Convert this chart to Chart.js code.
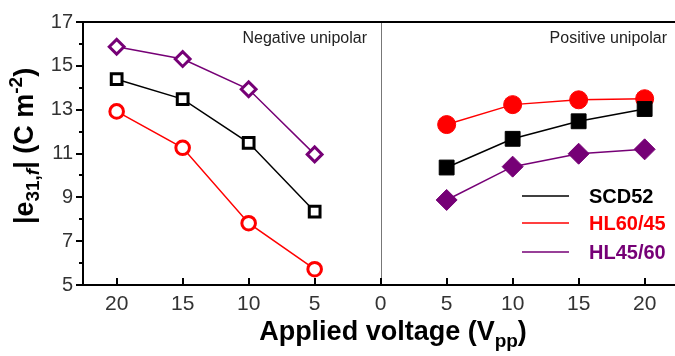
<!DOCTYPE html>
<html>
<head>
<meta charset="utf-8">
<script src="https://cdn.jsdelivr.net/npm/chart.js@4.4.0/dist/chart.umd.min.js"></script>
<style>
  html, body { margin: 0; padding: 0; background: #fff; }
  #wrap { width: 675px; height: 356px; }
</style>
</head>
<body>
<div id="wrap"><canvas id="chart"></canvas></div>
<script>
// Applied voltage (Vpp); negative unipolar is plotted left of 0
const negVoltages = [-20, -15, -10, -5];
const posVoltages = [5, 10, 15, 20];
const xTicks = [-20, -15, -10, -5, 0, 5, 10, 15, 20];
const yTicks = [5, 7, 9, 11, 13, 15, 17];

const materials = ['SCD52', 'HL60/45', 'HL45/60'];
const colors = ['#000000', '#ff0000', '#760076'];

// |e31,f| in C m-2
const scd52Neg = [14.39, 13.48, 11.49, 8.35];
const scd52Pos = [10.36, 11.67, 12.47, 13.03];
const hl6045Neg = [12.92, 11.26, 7.82, 5.72];
const hl6045Pos = [12.32, 13.23, 13.45, 13.50];
const hl4560Neg = [15.87, 15.31, 13.93, 10.96];
const hl4560Pos = [8.88, 10.40, 10.99, 11.19];

const FONT = '"Liberation Sans", Arial, sans-serif';

function pts(xs, ys) {
    return xs.map((x, i) => ({ x: x, y: ys[i] }));
}

// open markers on the negative side, filled on the positive side
const negSets = [scd52Neg, hl6045Neg, hl4560Neg];
const posSets = [scd52Pos, hl6045Pos, hl4560Pos];
const styles = ['rect', 'circle', 'rectRot'];
const openRadius = [7.6, 6.8, 7.4];
const fillRadius = [10.5, 9, 10.5];

const datasets = [];
materials.forEach((name, i) => {
    datasets.push({
        label: name + ' negative',
        data: pts(negVoltages, negSets[i]),
        borderColor: colors[i],
        backgroundColor: colors[i],
        borderWidth: 1.5,
        pointStyle: styles[i],
        pointRadius: openRadius[i],
        pointBorderWidth: 3,
        pointBackgroundColor: '#ffffff',
        pointBorderColor: colors[i],
        showLine: true,
    });
    datasets.push({
        label: name,
        data: pts(posVoltages, posSets[i]),
        borderColor: colors[i],
        backgroundColor: colors[i],
        borderWidth: 1.5,
        pointStyle: styles[i],
        pointRadius: fillRadius[i],
        pointBorderWidth: 1,
        pointBackgroundColor: colors[i],
        pointBorderColor: colors[i],
        showLine: true,
    });
});

// draws text made of pieces (normal / sub / super), centred on x
function richText(ctx, parts, x, y) {
    let total = 0;
    parts.forEach((p) => {
        ctx.font = p.font;
        p.w = ctx.measureText(p.t).width;
        total += p.w;
    });
    let cx = x - total / 2;
    ctx.textAlign = 'left';
    ctx.textBaseline = 'alphabetic';
    parts.forEach((p) => {
        ctx.font = p.font;
        ctx.fillText(p.t, cx, y + (p.dy || 0));
        cx += p.w;
    });
}

const decorPlugin = {
    id: 'decor',
    beforeDatasetsDraw(chart) {
        const ctx = chart.ctx;
        const a = chart.chartArea;
        const x0 = chart.scales.x.getPixelForValue(0);
        ctx.save();
        ctx.strokeStyle = '#777';
        ctx.lineWidth = 1;
        ctx.beginPath();
        ctx.moveTo(Math.round(x0) + 0.5, a.top);
        ctx.lineTo(Math.round(x0) + 0.5, a.bottom);
        ctx.stroke();
        ctx.restore();
    },
    afterDraw(chart) {
        const ctx = chart.ctx;
        const a = chart.chartArea;
        const xs = chart.scales.x;
        const ys = chart.scales.y;
        ctx.save();

        // frame top
        ctx.strokeStyle = '#000';
        ctx.lineWidth = 2;
        ctx.beginPath();
        ctx.moveTo(a.left, a.top);
        ctx.lineTo(chart.width, a.top);
        ctx.stroke();

        // x ticks point inward
        xTicks.forEach((v) => {
            const px = Math.round(xs.getPixelForValue(v));
            ctx.beginPath();
            ctx.moveTo(px, a.bottom);
            ctx.lineTo(px, a.bottom - 7);
            ctx.stroke();
        });

        // y ticks point outward, minor ones shorter
        for (let v = 5; v <= 17; v++) {
            const py = Math.round(ys.getPixelForValue(v));
            const len = v % 2 ? 7 : 4;
            ctx.beginPath();
            ctx.moveTo(a.left, py);
            ctx.lineTo(a.left - len, py);
            ctx.stroke();
        }

        // region notes
        ctx.fillStyle = '#222';
        ctx.font = '16px ' + FONT;
        ctx.textAlign = 'right';
        ctx.textBaseline = 'middle';
        ctx.fillText('Negative unipolar', 367, 39);
        ctx.fillText('Positive unipolar', 667, 39);

        // legend
        const legendY = [196, 223, 252];
        materials.forEach((name, i) => {
            ctx.strokeStyle = colors[i];
            ctx.lineWidth = 1.5;
            ctx.beginPath();
            ctx.moveTo(522, legendY[i]);
            ctx.lineTo(569, legendY[i]);
            ctx.stroke();
            ctx.fillStyle = colors[i];
            ctx.font = 'bold 20px ' + FONT;
            ctx.textAlign = 'left';
            ctx.textBaseline = 'middle';
            ctx.fillText(name, 589, legendY[i] + 1);
        });

        // axis titles
        ctx.fillStyle = '#000';
        const big = 'bold 27px ' + FONT;
        const small = 'bold 19px ' + FONT;
        richText(ctx, [
            { t: 'Applied voltage (V', font: big },
            { t: 'pp', font: small, dy: 7 },
            { t: ')', font: big },
        ], 393, 340);

        ctx.translate(33, 146);
        ctx.rotate(-Math.PI / 2);
        richText(ctx, [
            { t: '|e', font: big },
            { t: '31,', font: small, dy: 6 },
            { t: 'f', font: 'italic ' + small, dy: 6 },
            { t: '| (C m', font: big },
            { t: '-2', font: small, dy: -11 },
            { t: ')', font: big },
        ], 0, 0);

        ctx.restore();
    },
};

new Chart(document.getElementById('chart'), {
    type: 'scatter',
    data: { datasets: datasets },
    options: {
        responsive: true,
        maintainAspectRatio: false,
        animation: false,
        layout: {
            autoPadding: false,
            padding: { top: 20, right: 0, left: 0, bottom: 0 },
        },
        plugins: {
            legend: { display: false },
            tooltip: { enabled: false },
        },
        scales: {
            x: {
                type: 'linear',
                min: -22.55,
                max: 22.3,
                afterBuildTicks: (scale) => {
                    scale.ticks = xTicks.map((v) => ({ value: v }));
                },
                afterFit: (scale) => {
                    scale.height = 71;
                    scale.paddingLeft = 0;
                    scale.paddingRight = 0;
                },
                grid: { display: false, drawTicks: false },
                border: { display: true, color: '#000', width: 2 },
                ticks: {
                    padding: 7,
                    color: '#333',
                    font: { size: 21, family: FONT },
                    maxRotation: 0,
                    callback: (v) => Math.abs(v),
                },
            },
            y: {
                type: 'linear',
                min: 5,
                max: 17,
                afterBuildTicks: (scale) => {
                    scale.ticks = yTicks.map((v) => ({ value: v }));
                },
                afterFit: (scale) => { scale.width = 83; },
                grid: { display: false, drawTicks: false },
                border: { display: true, color: '#000', width: 2 },
                ticks: {
                    padding: 10,
                    color: '#333',
                    font: { size: 20, family: FONT },
                },
            },
        },
    },
    plugins: [decorPlugin],
});
</script>
</body>
</html>
